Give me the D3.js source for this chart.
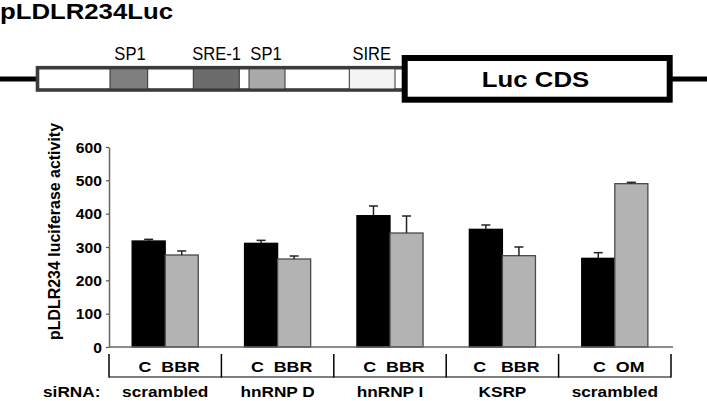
<!DOCTYPE html>
<html>
<head>
<meta charset="utf-8">
<script src="https://cdn.jsdelivr.net/npm/d3@7/dist/d3.min.js"></script>
<style>
  html, body { margin: 0; padding: 0; background: #fff; }
  svg { display: block; }
  text { font-family: "Liberation Sans", Arial, Helvetica, sans-serif; }
</style>
</head>
<body>
<svg id="chart" width="707" height="401"></svg>
<script>
// ---------- data ----------
const sirnaLabels   = ["scrambled", "hnRNP D", "hnRNP I", "KSRP", "scrambled"];
const treatLabels   = ["C  BBR", "C  BBR", "C  BBR", "C   BBR", "C  OM"];
const controlValues = [318, 311, 394, 353, 266];
const controlErrors = [5, 9, 29, 13, 17];
const treatValues   = [276, 264, 342, 274, 490];
const treatErrors   = [12, 9, 51, 26, 4];
const yTicks        = [0, 100, 200, 300, 400, 500, 600];
const elementNames  = ["SP1", "SRE-1", "SP1", "SIRE"];
const titleText     = "pLDLR234Luc";
const yTitle        = "pLDLR234 luciferase activity";
const cdsText       = "Luc CDS";

// ---------- layout ----------
const svg = d3.select("#chart");
const SX = 1.15; // horizontal stretch of the reference lettering

function label(g, x, y, s, size, weight, anchor, sx, len) {
  const t = g.append("text")
    .attr("transform", `translate(${x},${y}) scale(${sx},1)`)
    .attr("text-anchor", anchor)
    .attr("font-size", size)
    .attr("font-weight", weight)
    .attr("fill", "#000")
    .text(s);
  if (len) t.attr("textLength", len).attr("lengthAdjust", "spacingAndGlyphs");
  return t;
}

// ---------- construct diagram ----------
const diag = svg.append("g");
label(diag, 0, 19, titleText, 22, "bold", "start", 1, 173);

diag.append("line").attr("x1", 0).attr("x2", 38).attr("y1", 79).attr("y2", 79)
  .attr("stroke", "#000").attr("stroke-width", 5);
diag.append("line").attr("x1", 670).attr("x2", 707).attr("y1", 79).attr("y2", 79)
  .attr("stroke", "#000").attr("stroke-width", 5);

diag.append("rect").attr("x", 37.5).attr("y", 67.7).attr("width", 367).attr("height", 22.3)
  .attr("fill", "#fff").attr("stroke", "#3c3c3c").attr("stroke-width", 3.6);

const elementBoxes = [
  {x0: 110,   x1: 147.7, fill: "#7f7f7f", lx: 130},
  {x0: 193.3, x1: 239.3, fill: "#6c6c6c", lx: 216.7},
  {x0: 249,   x1: 285,   fill: "#a9a9a9", lx: 266},
  {x0: 349.3, x1: 395,   fill: "#f3f3f3", lx: 371.7}
];
elementBoxes.forEach((b, i) => {
  diag.append("rect").attr("x", b.x0).attr("y", 68.8).attr("width", b.x1 - b.x0).attr("height", 20.2)
    .attr("fill", b.fill).attr("stroke", "#333").attr("stroke-width", 1);
  label(diag, b.lx, 60, elementNames[i], 18, "normal", "middle", 0.92);
});

diag.append("rect").attr("x", 404.7).attr("y", 58).attr("width", 265).attr("height", 41.7)
  .attr("fill", "#fff").attr("stroke", "#000").attr("stroke-width", 6);
label(diag, 535.5, 87, cdsText, 23, "bold", "middle", 1.12);

// ---------- bar chart ----------
const idx = d3.range(sirnaLabels.length);
const x = d3.scaleBand().domain(idx).range([109, 671]).paddingInner(0).paddingOuter(0);
const xs = d3.scaleBand().domain(["c", "t"]).range([0, x.bandwidth()]).paddingInner(0).paddingOuter(0.7);
const y = d3.scaleLinear().domain([0, 600]).range([347, 147]);

const chart = svg.append("g");

// y axis
const yAxis = chart.append("g").attr("transform", "translate(109,0)")
  .call(d3.axisLeft(y).tickValues(yTicks).tickSize(3).tickSizeOuter(0));
yAxis.select(".domain").attr("stroke", "#666").attr("stroke-width", 1.5);
yAxis.selectAll(".tick line").attr("stroke", "#555").attr("stroke-width", 1.2);
yAxis.selectAll(".tick text")
  .attr("x", null).attr("dy", "0.36em")
  .attr("text-anchor", "end")
  .attr("transform", `translate(-7,0) scale(1.12,1)`)
  .attr("font-size", 14).attr("font-weight", "bold").attr("fill", "#000")
  .attr("font-family", '"Liberation Sans", Arial, sans-serif');

// y title
chart.append("text")
  .attr("transform", "translate(60,231.5) rotate(-90)")
  .attr("text-anchor", "middle")
  .attr("font-size", 16).attr("font-weight", "bold")
  .attr("textLength", 217).attr("lengthAdjust", "spacingAndGlyphs")
  .text(yTitle);

// bars
const series = [
  {key: "c", values: controlValues, errors: controlErrors, fill: "#000", stroke: "#000"},
  {key: "t", values: treatValues,   errors: treatErrors,   fill: "#b3b3b3", stroke: "#4a4a4a"}
];
series.forEach(s => {
  const g = chart.append("g");
  g.selectAll("rect").data(idx).join("rect")
    .attr("x", i => x(i) + xs(s.key))
    .attr("width", xs.bandwidth())
    .attr("y", i => y(s.values[i]))
    .attr("height", i => y(0) - y(s.values[i]))
    .attr("fill", s.fill).attr("stroke", s.stroke).attr("stroke-width", 1.3);
  // error bars
  g.selectAll("line.err").data(idx).join("line").attr("class", "err")
    .attr("x1", i => x(i) + xs(s.key) + xs.bandwidth() / 2)
    .attr("x2", i => x(i) + xs(s.key) + xs.bandwidth() / 2)
    .attr("y1", i => y(s.values[i]))
    .attr("y2", i => y(s.values[i] + s.errors[i]))
    .attr("stroke", "#222").attr("stroke-width", 1.5);
  g.selectAll("line.cap").data(idx).join("line").attr("class", "cap")
    .attr("x1", i => x(i) + xs(s.key) + xs.bandwidth() / 2 - 4.5)
    .attr("x2", i => x(i) + xs(s.key) + xs.bandwidth() / 2 + 4.5)
    .attr("y1", i => y(s.values[i] + s.errors[i]))
    .attr("y2", i => y(s.values[i] + s.errors[i]))
    .attr("stroke", "#222").attr("stroke-width", 1.5);
});

// x axis baseline
chart.append("line")
  .attr("x1", x.range()[0]).attr("x2", x.range()[1] + 2)
  .attr("y1", y(0)).attr("y2", y(0))
  .attr("stroke", "#666").attr("stroke-width", 1.6);

// treatment table
const table = chart.append("g");
const bounds = idx.map(i => x(i)).concat([x.range()[1]]);
table.selectAll("line.v").data(bounds).join("line").attr("class", "v")
  .attr("x1", d => d).attr("x2", d => d)
  .attr("y1", 354).attr("y2", 377.5)
  .attr("stroke", "#000").attr("stroke-width", 1.5);
table.append("line")
  .attr("x1", x.range()[0]).attr("x2", x.range()[1])
  .attr("y1", 377).attr("y2", 377)
  .attr("stroke", "#000").attr("stroke-width", 1.2);

idx.forEach(i => {
  const cx = x(i) + x.bandwidth() / 2;
  label(table, cx + 4, 371.5, treatLabels[i], 15.5, "bold", "middle", SX).style("white-space", "pre");
  label(table, cx, 396.5, sirnaLabels[i], 15, "bold", "middle", SX);
});
label(table, 43, 396.5, "siRNA:", 15, "bold", "start", SX);
</script>
</body>
</html>
